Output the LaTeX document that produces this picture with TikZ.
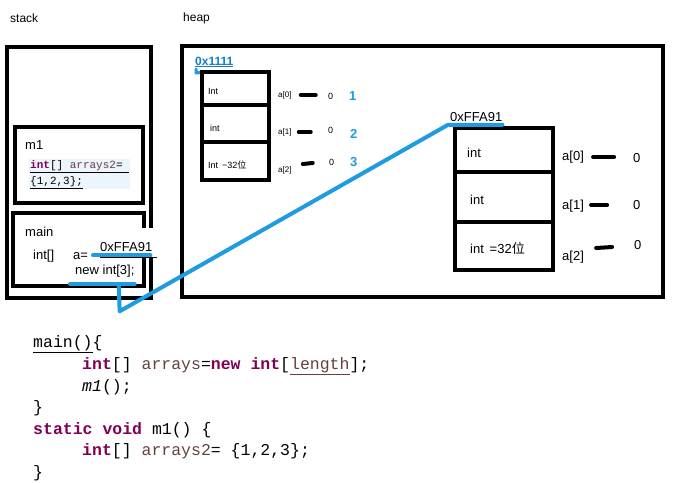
\documentclass[tikz,border=0pt]{standalone}
\usepackage{fontspec}
\setmainfont{Liberation Sans}
\newfontfamily\cjk{Noto Sans CJK SC}
\newfontfamily\codefont{Liberation Mono}
\definecolor{kw}{RGB}{127,0,85}
\definecolor{var}{RGB}{106,62,62}
\definecolor{cblue}{RGB}{30,155,225}
\definecolor{addr}{RGB}{20,125,200}
\definecolor{hl}{RGB}{236,244,252}
\begin{document}
\begin{tikzpicture}[x=1pt,y=-1pt]
\tikzset{
 thickbox/.style={draw, line width=4.5pt, inner sep=0, outer sep=0, anchor=north west},
 cellbox/.style={draw, line width=3.5pt, inner sep=0, outer sep=0, anchor=north west},
 lbl/.style={inner sep=0, anchor=west, font=\fontsize{13}{15}\selectfont},
 smalllbl/.style={inner sep=0, anchor=west, font=\fontsize{9}{11}\selectfont},
 dashmark/.style={line width=4pt, line cap=round},
 blueline/.style={draw=cblue, line width=4pt, line cap=round, line join=round},
 code/.style={inner sep=0, anchor=base west, font=\codefont\fontsize{16.5}{20}\selectfont},
 bluenum/.style={inner sep=0, anchor=west, text=cblue, font=\bfseries\fontsize{13}{15}\selectfont},
}
\useasboundingbox (0,0) rectangle (684,482);
\fill[white] (0,0) rectangle (684,482);

% titles
\node[lbl, font=\fontsize{12}{14}\selectfont] (stacklbl) at (10,18) {stack};
\node[lbl, font=\fontsize{12}{14}\selectfont] (heaplbl) at (183,18) {heap};

% stack
\node[thickbox, minimum width=144pt, minimum height=251pt] (stack) at (7,47) {};
\node[thickbox, line width=4pt, minimum width=128pt, minimum height=76pt] (m1box) at (15,127) {};
\node[thickbox, line width=4pt, minimum width=131pt, minimum height=73pt] (mainbox) at (13,213) {};

\node[lbl] (m1lbl) at (25,145) {m1};
\node[inner sep=1pt, anchor=north west, fill=hl, align=left,
      font=\codefont\fontsize{11}{16}\selectfont] (m1code) at (29,159)
  {\underline{\textcolor{kw}{\bfseries int}[] \textcolor{var}{arrays2}= }\\\underline{\{1,2,3\};}};

\node[lbl] (mainlbl) at (25,232) {main};
\node[lbl] (intarr) at (33,256) {int[]};
\node[lbl] (aeq) at (73,256) {a=};
\fill[white] (96,228) rectangle (157,257);
\node[lbl] (addrA) at (100,247) {0xFFA91};
\draw[line width=0.8pt] (100,257.5) -- (157,257.5);
\node[lbl] (newint) at (75,271) {new int[3];};

% heap
\node[thickbox, line width=4pt, minimum width=481pt, minimum height=251pt] (heap) at (182,46) {};

% small array
\node[inner sep=0, anchor=west, text=addr, font=\bfseries\fontsize{12}{14}\selectfont] (addrS) at (195,62) {\underline{0x1111}};
\draw[blueline, line width=3pt] (196,69) -- (196,73) -- (206,72);
\node[cellbox, minimum width=67pt, minimum height=33pt] (s0) at (202,72) {};
\node[cellbox, minimum width=67pt, minimum height=37pt] (s1) at (202,105) {};
\node[cellbox, minimum width=67pt, minimum height=38pt] (s2) at (202,142) {};
\node[smalllbl] (s0t) at (208,91) {Int};
\node[smalllbl] (s1t) at (210,128) {int};
\node[smalllbl] (s2t) at (208,165) {Int \,−32{\cjk 位}};

\node[smalllbl, font=\fontsize{8}{10}\selectfont] (sa0) at (278,95) {a[0]};
\node[smalllbl, font=\fontsize{8}{10}\selectfont] (sa1) at (278,132) {a[1]};
\node[smalllbl, font=\fontsize{8}{10}\selectfont] (sa2) at (278,170) {a[2]};
\draw[dashmark] ([xshift=9pt]sa0.east) -- ++(15,0);
\draw[dashmark] ([xshift=7pt]sa1.east) -- ++(12,0);
\draw[dashmark] ([xshift=11pt,yshift=6pt]sa2.east) -- ++(10,-1);
\node[smalllbl] (sv0) at (328,96) {0};
\node[smalllbl] (sv1) at (328,130) {0};
\node[smalllbl] (sv2) at (329,162) {0};
\node[bluenum] (n1) at (349,96) {1};
\node[bluenum] (n2) at (350,134) {2};
\node[bluenum] (n3) at (350,162) {3};

% big array
\node[lbl] (addrB) at (450,117) {0xFFA91};
\node[cellbox, line width=4pt, minimum width=98pt, minimum height=44pt] (b0) at (455,128) {};
\node[cellbox, line width=4pt, minimum width=98pt, minimum height=50pt] (b1) at (455,172) {};
\node[cellbox, line width=4pt, minimum width=98pt, minimum height=48pt] (b2) at (455,222) {};
\node[lbl] (b0t) at (467,153) {int};
\node[lbl] (b1t) at (470,200) {int};
\node[lbl] (b2t) at (470,248) {int \,=32{\cjk 位}};

\node[lbl] (ba0) at (562,157) {a[0]};
\node[lbl] (ba1) at (562,206) {a[1]};
\node[lbl] (ba2) at (562,257) {a[2]};
\draw[dashmark] ([xshift=9pt]ba0.east) -- ++(21,0);
\draw[dashmark] ([xshift=7pt,yshift=1pt]ba1.east) -- ++(16,0);
\draw[dashmark] ([xshift=12pt,yshift=9pt]ba2.east) -- ++(16,-1);
\node[lbl] (bv0) at (633,158) {0};
\node[lbl] (bv1) at (633,205) {0};
\node[lbl] (bv2) at (634,245) {0};

% blue connector
\draw[blueline] ([xshift=-7pt,yshift=-4pt]addrA.base west) -- ([xshift=-2pt,yshift=-4pt]addrA.base east);
\draw[blueline] ([xshift=-5pt,yshift=-7pt]newint.south west) -- ([yshift=-7pt]newint.south east);
\draw[blueline] ([xshift=-16pt,yshift=-7pt]newint.south east) -- ++(1,27) -- ([xshift=-2pt,yshift=-3pt]addrB.south west) -- ([yshift=-3pt]addrB.south east);

% code
\node[code] (c1) at (33,347) {\underline{main()}\{};
\node[code] (c2) at (82,369) {\textcolor{kw}{\bfseries int}[] \textcolor{var}{arrays}=\textcolor{kw}{\bfseries new} \textcolor{kw}{\bfseries int}[\textcolor{var}{\underline{length}}];};
\node[code] (c3) at (82,391) {\textit{m1}();};
\node[code] (c4) at (33,412) {\}};
\node[code] (c5) at (33,434) {\textcolor{kw}{\bfseries static} \textcolor{kw}{\bfseries void} m1() \{};
\node[code] (c6) at (82,455) {\textcolor{kw}{\bfseries int}[] \textcolor{var}{arrays2}= \{1,2,3\};};
\node[code] (c7) at (33,477) {\}};
\end{tikzpicture}
\end{document}
